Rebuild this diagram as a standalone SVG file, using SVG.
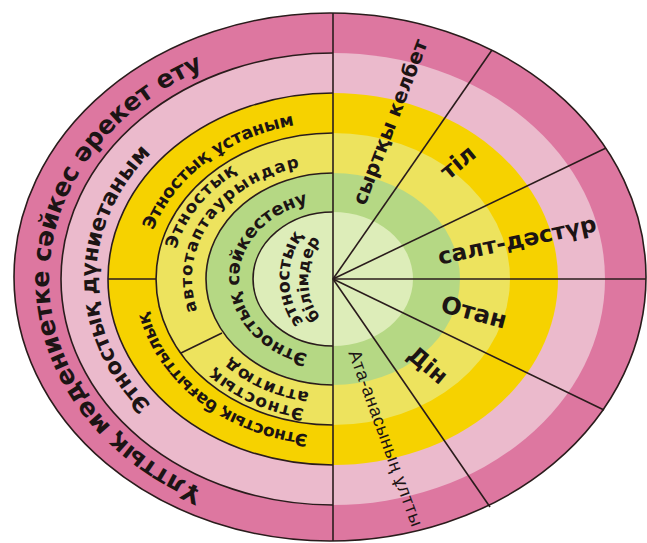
<svg xmlns="http://www.w3.org/2000/svg" width="647" height="543" viewBox="0 0 647 543">
<style>
.ln{fill:none;stroke:#2a1c1c;stroke-width:1.6}
.t{font-family:"DejaVu Sans","Liberation Sans",sans-serif;font-weight:bold;fill:#1c1414}
.r{font-family:"DejaVu Sans","Liberation Sans",sans-serif;font-weight:bold;fill:#1c1414;text-anchor:middle}
.n{font-family:"Liberation Sans",Arial,sans-serif;font-weight:normal;fill:#1c1414;text-anchor:middle}
</style>
<defs>
<path id="p1" d="M283.7,511.4 A284,236 0 0 1 283.7,46.6"/>
<path id="p2" d="M291.9,472 A237,196 0 0 1 291.9,86"/>
<path id="p3" d="M150,318.3 A189,157 0 0 1 383.5,127.7"/>
<path id="p4" d="M381.9,430.6 A189,157 0 0 1 150.4,238.4"/>
<path id="p5a" d="M193.6,345 A161,132 0 0 1 333,147"/>
<path id="p5b" d="M212.1,338.2 A141,115 0 0 1 330.5,164"/>
<path id="p5c" d="M408.6,395.5 A161,132 0 0 1 172.1,274.4"/>
<path id="p5d" d="M400.3,380.1 A141,115 0 0 1 192,276"/>
<path id="p6" d="M324.8,356.7 A94,78 0 0 1 324.8,201.3"/>
<path id="p7a" d="M325.5,336.1 A44,58 0 0 1 325.5,221.9"/>
<path id="p7b" d="M330.9,322.8 A25,44 0 0 1 330.9,235.2"/>
</defs>
<g id="rings">
<ellipse cx="330" cy="277" rx="316" ry="264" fill="#dd77a0"/>
<ellipse cx="333" cy="279" rx="272" ry="226" fill="#ebbacc"/>
<ellipse cx="333" cy="279" rx="225" ry="186" fill="#f6d200"/>
<ellipse cx="333" cy="279" rx="177" ry="146" fill="#ede35e"/>
<ellipse cx="333" cy="279" rx="127" ry="106" fill="#b5d884"/>
<ellipse cx="333" cy="279" rx="80" ry="67" fill="#ddedb9"/>
</g>
<g id="connectors">
<path class="ln" d="M333,53 A272,226 0 0 0 333,505"/>
<path class="ln" d="M333,93 A225,186 0 0 0 333,465"/>
<path class="ln" d="M333,133 A177,146 0 0 0 333,425"/>
<path class="ln" d="M333,173 A127,106 0 0 0 333,385"/>
<path class="ln" d="M333,212 A80,67 0 0 0 333,346"/>
<ellipse class="ln" cx="330" cy="277" rx="316" ry="264"/>
<line class="ln" x1="333" y1="13" x2="333" y2="541"/>
<line class="ln" x1="333" y1="279" x2="492" y2="50"/>
<line class="ln" x1="333" y1="279" x2="606" y2="148"/>
<line class="ln" x1="333" y1="279" x2="646" y2="279"/>
<line class="ln" x1="333" y1="279" x2="604" y2="410"/>
<line class="ln" x1="333" y1="279" x2="490" y2="507"/>
<line class="ln" x1="108" y1="279" x2="156" y2="279"/>
<line class="ln" x1="181" y1="353" x2="222" y2="333"/>
</g>
<g id="node-outer"><text class="t" font-size="25"><textPath href="#p1" startOffset="50%" text-anchor="middle" textLength="552">Ұлттық мәдениетке сәйкес әрекет ету</textPath></text></g>
<g id="node-worldview"><text class="t" font-size="22"><textPath href="#p2" startOffset="50%" text-anchor="middle" textLength="282">Этностық дүниетаным</textPath></text></g>
<g id="node-position"><text class="t" font-size="17.5"><textPath href="#p3" startOffset="50%" text-anchor="middle" textLength="184">Этностық ұстаным</textPath></text></g>
<g id="node-orientation"><text class="t" font-size="17"><textPath href="#p4" startOffset="50%" text-anchor="middle" textLength="214">Этностық бағыттылық</textPath></text></g>
<g id="node-autostereotypes">
<text class="t" font-size="17"><textPath href="#p5a" startOffset="50%" text-anchor="middle" textLength="100">Этностық</textPath></text>
<text class="t" font-size="16.5"><textPath href="#p5b" startOffset="50%" text-anchor="middle" textLength="200">автотаптаурындар</textPath></text>
</g>
<g id="node-attitude">
<text class="t" font-size="17"><textPath href="#p5c" startOffset="50%" text-anchor="middle" textLength="100">Этностық</textPath></text>
<text class="t" font-size="17"><textPath href="#p5d" startOffset="50%" text-anchor="middle" textLength="88">аттитюд</textPath></text>
</g>
<g id="node-identification"><text class="t" font-size="18"><textPath href="#p6" startOffset="50%" text-anchor="middle" textLength="220">Этностық сәйкестену</textPath></text></g>
<g id="node-knowledge">
<text class="t" font-size="17.5"><textPath href="#p7a" startOffset="50%" text-anchor="middle">этностық</textPath></text>
<text class="t" font-size="16"><textPath href="#p7b" startOffset="50%" text-anchor="middle">білімдер</textPath></text>
</g>
<g id="node-appearance"><text class="r" font-size="20" transform="translate(390,122) rotate(-69)" dy="0.35em">сыртқы келбет</text></g>
<g id="node-language"><text class="r" font-size="23" transform="translate(458,162) rotate(-40)" dy="0.35em">тіл</text></g>
<g id="node-tradition"><text class="r" font-size="23" transform="translate(517,240) rotate(-12)" dy="0.35em">салт-дәстүр</text></g>
<g id="node-homeland"><text class="r" font-size="24" transform="translate(474,312) rotate(15)" dy="0.35em">Отан</text></g>
<g id="node-religion"><text class="r" font-size="23" transform="translate(428,365) rotate(40)" dy="0.35em">Дін</text></g>
<g id="node-parents"><text class="n" font-size="18" transform="translate(386,438) rotate(70)" dy="0.35em" textLength="186">Ата-анасының ұлтты</text></g>
</svg>
